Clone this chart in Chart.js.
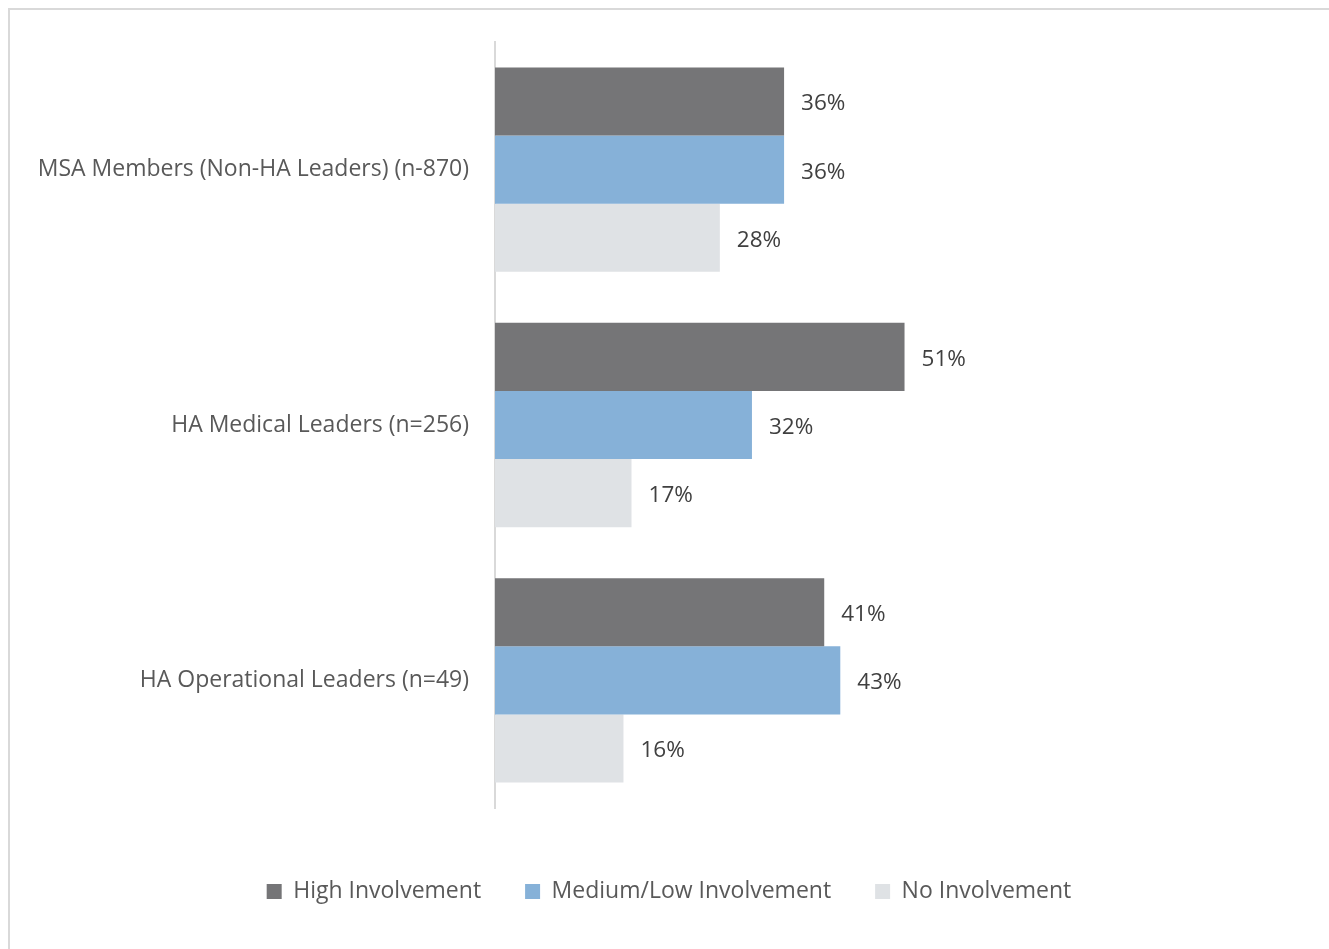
<!DOCTYPE html>
<html>
<head>
<meta charset="utf-8">
<script src="https://cdn.jsdelivr.net/npm/chart.js@4.4.1/dist/chart.umd.min.js"></script>
<style>
  body { margin: 0; background: #fff; }
  #wrap { position: relative; width: 1329px; height: 949px; overflow: hidden; }
  #frame { position: absolute; left: 8px; top: 8px; width: 1400px; height: 1000px;
           border-left: 2px solid #d9d9d9; border-top: 2px solid #d9d9d9; }
  canvas { position: absolute; left: 0; top: 0; }
</style>
</head>
<body>
<div id="wrap">
  <div id="frame"></div>
  <canvas id="involvementChart" width="1329" height="949"></canvas>
</div>
<script>
// groups and involvement shares (%)
const groups = ['MSA Members (Non-HA Leaders) (n-870)', 'HA Medical Leaders (n=256)', 'HA Operational Leaders (n=49)'];
const highInvolvement = [36, 51, 41];
const mediumLowInvolvement = [36, 32, 43];
const noInvolvement = [28, 17, 16];
const seriesNames = ['High Involvement', 'Medium/Low Involvement', 'No Involvement'];
const seriesColors = ['#757577', '#86b1d8', '#dfe2e5'];

const FONT = '"Open Sans", "Noto Sans", sans-serif';

// writes "NN%" just past the end of each bar
const valueLabels = {
  id: 'valueLabels',
  afterDatasetsDraw(chart) {
    const ctx = chart.ctx;
    ctx.save();
    ctx.font = '22.5px ' + FONT;
    ctx.fillStyle = '#404040';
    ctx.textAlign = 'left';
    ctx.textBaseline = 'middle';
    chart.data.datasets.forEach((ds, i) => {
      chart.getDatasetMeta(i).data.forEach((bar, j) => {
        ctx.fillText(ds.data[j] + '%', bar.x + 17, bar.y + 2.5);
      });
    });
    ctx.restore();
  }
};

new Chart(document.getElementById('involvementChart').getContext('2d'), {
  type: 'bar',
  data: {
    labels: groups,
    datasets: [
      { label: seriesNames[0], data: highInvolvement, backgroundColor: seriesColors[0] },
      { label: seriesNames[1], data: mediumLowInvolvement, backgroundColor: seriesColors[1] },
      { label: seriesNames[2], data: noInvolvement, backgroundColor: seriesColors[2] }
    ]
  },
  options: {
    indexAxis: 'y',
    responsive: false,
    animation: false,
    categoryPercentage: 0.8,
    barPercentage: 1.0,
    layout: { padding: { top: 42, right: 31, left: 40, bottom: 36 } },
    scales: {
      x: {
        min: 0,
        max: 100,
        ticks: { display: false },
        grid: { display: false },
        border: { display: false },
        afterFit(scale) { scale.height = 28; }
      },
      y: {
        ticks: { color: '#595959', font: { family: FONT, size: 23 }, padding: 18 },
        grid: { display: false },
        border: { color: '#d9d9d9', width: 2 },
        afterFit(scale) { scale.width = 455; }
      }
    },
    plugins: {
      legend: {
        position: 'bottom',
        labels: {
          color: '#595959',
          font: { family: FONT, size: 23 },
          boxWidth: 15,
          boxHeight: 15,
          padding: 44
        }
      },
      tooltip: { enabled: false }
    }
  },
  plugins: [valueLabels]
});
</script>
</body>
</html>
